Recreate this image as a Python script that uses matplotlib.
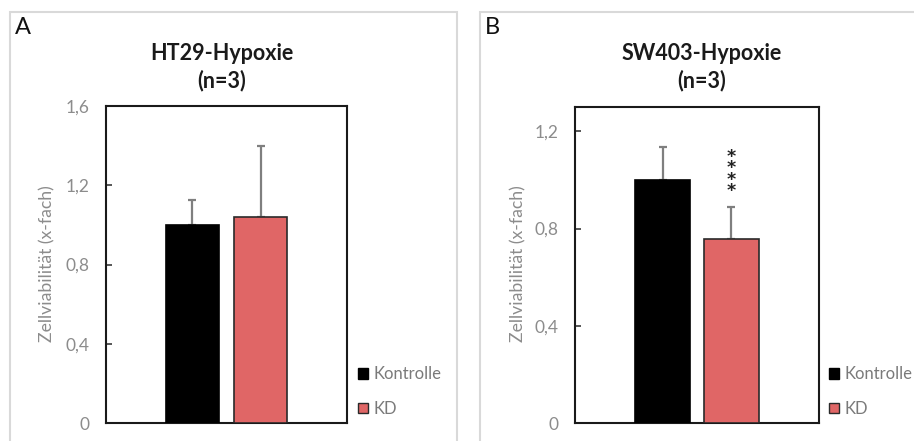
import matplotlib
matplotlib.use("Agg")
import matplotlib.pyplot as plt
from matplotlib.patches import Rectangle, Patch

plt.rcParams['font.family'] = ['Lato', 'DejaVu Sans']

# ---- data ----
groups = ["Kontrolle", "KD"]
titles = ["HT29-Hypoxie\n(n=3)", "SW403-Hypoxie\n(n=3)"]
panel_labels = ["A", "B"]
means_A = [1.00, 1.04]
sd_A = [0.125, 0.36]
means_B = [1.00, 0.757]
sd_B = [0.135, 0.133]
yticks_A = [0, 0.4, 0.8, 1.2, 1.6]
yticks_B = [0, 0.4, 0.8, 1.2]
ytick_labels_A = ["0", "0,4", "0,8", "1,2", "1,6"]
ytick_labels_B = ["0", "0,4", "0,8", "1,2"]
ylim_A = (0, 1.6)
ylim_B = (0, 1.3)
stars_B = "*\n*\n*\n*"
ylabel = "Zellviabilität (x-fach)"

W, H = 914, 441
fig = plt.figure(figsize=(W / 100, H / 100), dpi=100)

def fx(x):
    return x / W

def fy(y):
    return 1 - y / H

colors = ["#000000", "#E06666"]
edge = "#2a2a2a"
gray = "#7f7f7f"

# panel borders
for (x0, x1) in [(10, 457), (480, 920)]:
    fig.patches.append(Rectangle((fx(x0), fy(445)), fx(x1) - fx(x0), fy(12) - fy(445),
                                 transform=fig.transFigure, fill=False,
                                 edgecolor="#d9d9d9", linewidth=1.5, zorder=0))

panels = [
    dict(rect=(106, 347, 106, 423), means=means_A, sd=sd_A, yt=yticks_A, ytl=ytick_labels_A,
         ylim=ylim_A, title_x=222, ylabel_x=47, leg_x=356, label_x=15),
    dict(rect=(575, 819, 107, 423), means=means_B, sd=sd_B, yt=yticks_B, ytl=ytick_labels_B,
         ylim=ylim_B, title_x=702, ylabel_x=518, leg_x=827, label_x=485),
]

for i, p in enumerate(panels):
    l, r, t, b = p["rect"]
    ax = fig.add_axes([fx(l), fy(b), fx(r) - fx(l), fy(t) - fy(b)])
    xs = [0, 1]
    ax.bar(xs, p["means"], width=0.79, color=colors,
           edgecolor=[colors[0], edge], linewidth=1.2, zorder=3)
    ax.errorbar(xs, p["means"], yerr=[[0, 0], p["sd"]], fmt="none",
                ecolor=gray, elinewidth=1.6, capsize=3.2, capthick=1.6, zorder=2)
    ax.set_xlim(-1.27, 2.27)
    ax.set_ylim(*p["ylim"])
    ax.set_xticks([])
    ax.set_yticks(p["yt"])
    ax.set_yticklabels(p["ytl"])
    ax.tick_params(axis="y", direction="in", length=4, width=1.2, colors="#3a3a3a",
                   labelcolor="#8c8c8c", labelsize=12.5, pad=12)
    for s in ax.spines.values():
        s.set_linewidth(1.5)
        s.set_color("#1a1a1a")
    if i == 1:
        ax.text(1, p["means"][1] + p["sd"][1] + 0.135, stars_B,
                ha="center", va="center", fontsize=12.5, family="DejaVu Sans",
                fontweight="bold", linespacing=0.53, color="#222222", zorder=4)
    # title
    fig.text(fx(p["title_x"]), fy(67), titles[i], ha="center", va="center",
             fontsize=15.5, fontweight="bold", color="#1a1a1a", linespacing=1.3)
    # ylabel
    fig.text(fx(p["ylabel_x"]), fy(264), ylabel, rotation=90, ha="center", va="center",
             fontsize=12.7, color="#8c8c8c")
    # panel label
    fig.text(fx(p["label_x"]), fy(28), panel_labels[i], ha="left", va="center",
             fontsize=17, color="#111111")
    # legend
    handles = [Patch(facecolor=colors[0], edgecolor=colors[0]),
               Patch(facecolor=colors[1], edgecolor=edge, linewidth=1.0)]
    ax.legend(handles, groups, loc="upper left",
              bbox_to_anchor=(fx(p["leg_x"] - 6), fy(358)), bbox_transform=fig.transFigure,
              frameon=False, handlelength=0.6, handleheight=0.6, handletextpad=0.3,
              labelspacing=1.1, fontsize=12, labelcolor="#7a7a7a", borderpad=0)

fig.savefig("out.png", dpi=100)
